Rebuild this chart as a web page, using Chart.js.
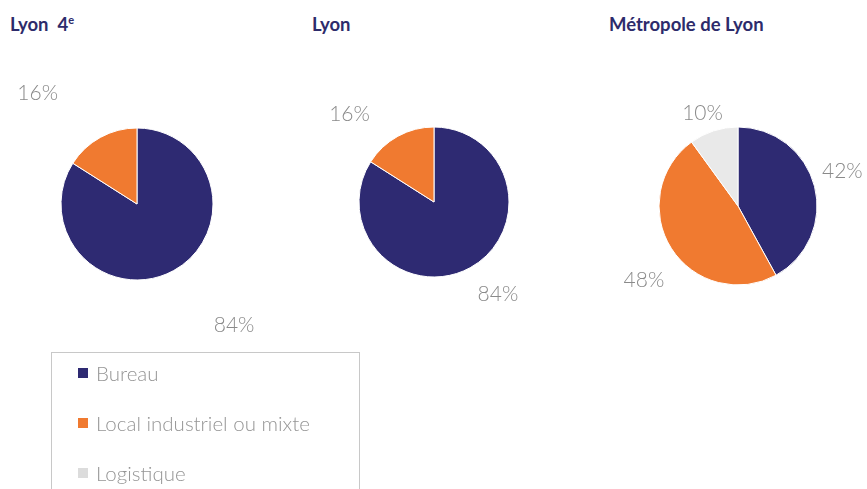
<!DOCTYPE html>
<html>
<head>
<meta charset="utf-8">
<script src="https://cdn.jsdelivr.net/npm/chart.js@4.4.0/dist/chart.umd.min.js"></script>
<style>
  body { margin: 0; width: 867px; height: 489px; background: #fff; position: relative; overflow: hidden; font-family: Lato, sans-serif; }
  .title { position: absolute; top: 13px; font-weight: bold; font-size: 18.5px; color: #2d2b6b; }
  .title sup { font-size: 11px; }
  .pie { position: absolute; width: 360px; height: 360px; }
  #legend { position: absolute; left: 51px; top: 352px; width: 307px; height: 150px; border: 1px solid #c8c8c8; border-bottom: none; }
  .item { position: absolute; left: 26px; font-size: 20.5px; font-weight: 300; color: #959595; white-space: nowrap; }
  .item span.box { display: inline-block; width: 10px; height: 10px; margin-right: 8px; vertical-align: 3px; }
</style>
</head>
<body>
<div class="title" style="left:10px">Lyon&nbsp; 4<sup>e</sup></div>
<div class="title" style="left:312px">Lyon</div>
<div class="title" style="left:609px">Métropole de Lyon</div>

<div class="pie" id="p1"><canvas id="c1"></canvas></div>
<div class="pie" id="p2"><canvas id="c2"></canvas></div>
<div class="pie" id="p3"><canvas id="c3"></canvas></div>
<div id="legend"></div>

<script>
const categories = ['Bureau', 'Local industriel ou mixte', 'Logistique'];
const colors = ['#2e2a72', '#f07a30', '#e9e9e9'];

const lyon4_values = [84, 16, 0];
const lyon_values = [84, 16, 0];
const metropole_values = [42, 48, 10];

// label placement: [angle shift in degrees, distance from centre]
const lyon4_labels = [[-10, 155], [-13, 149], [0, 0]];
const lyon_labels = [[-6, 112], [-15, 122], [0, 0]];
const metropole_labels = [[-4, 110], [-6, 120], [-3, 99]];

const outside_labels = {
  id: 'outside_labels',
  afterDraw(chart, args, opts) {
    const ctx = chart.ctx;
    const meta = chart.getDatasetMeta(0);
    const values = chart.data.datasets[0].data;
    ctx.save();
    ctx.font = '300 21px Lato';
    ctx.fillStyle = '#8a8a8a';
    ctx.textAlign = 'center';
    ctx.textBaseline = 'middle';
    meta.data.forEach((arc, i) => {
      if (!values[i]) return;
      const [shift, dist] = opts.place[i];
      const mid = (arc.startAngle + arc.endAngle) / 2 + shift * Math.PI / 180;
      ctx.fillText(values[i] + '%', arc.x + Math.cos(mid) * dist, arc.y + Math.sin(mid) * dist);
    });
    ctx.restore();
  }
};

const make_pie = (id, box, cx, cy, r, values, place) => {
  const el = document.getElementById(box);
  el.style.left = (cx - 180) + 'px';
  el.style.top = (cy - 180) + 'px';
  new Chart(document.getElementById(id), {
    type: 'pie',
    data: {
      labels: categories,
      datasets: [{ data: values, backgroundColor: colors, borderColor: '#fff', borderWidth: 1, radius: r }]
    },
    options: {
      responsive: true,
      maintainAspectRatio: false,
      animation: false,
      events: [],
      plugins: { legend: { display: false }, tooltip: { enabled: false }, outside_labels: { place: place } }
    },
    plugins: [outside_labels]
  });
};

make_pie('c1', 'p1', 137, 204, 76, lyon4_values, lyon4_labels);
make_pie('c2', 'p2', 434, 202, 75, lyon_values, lyon_labels);
make_pie('c3', 'p3', 738, 206, 79, metropole_values, metropole_labels);

const legend = document.getElementById('legend');
categories.forEach((name, i) => {
  const item = document.createElement('div');
  item.className = 'item';
  item.style.top = (8 + i * 50) + 'px';
  item.innerHTML = `<span class="box" style="background:${i == 2 ? '#dcdcdc' : colors[i]}"></span>${name}`;
  legend.appendChild(item);
});
</script>
</body>
</html>
